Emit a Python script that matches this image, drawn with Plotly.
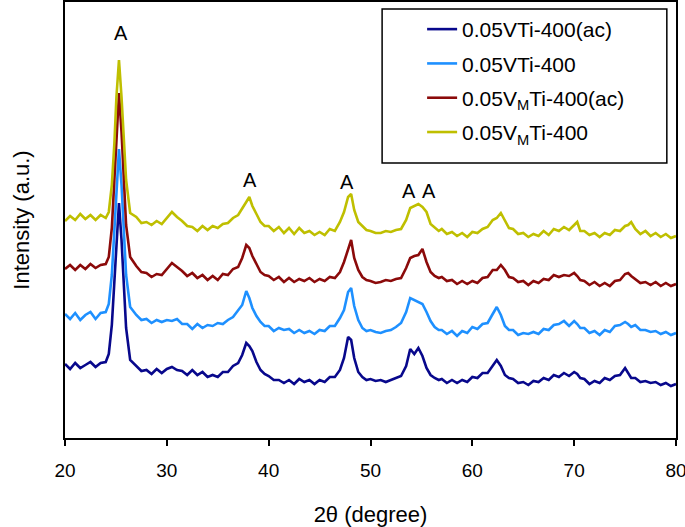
import plotly.graph_objects as go

# 2-theta grid (degree), finer around the reflections
two_theta = (
    [20.0, 20.5, 21.0, 21.5, 22.0, 22.5, 23.0, 23.5, 24.0]
    + [24.3, 24.6, 24.85, 25.05, 25.3, 25.55, 25.75, 26.0, 26.4]
    + [27.0, 27.5, 28.0, 28.5, 29.0, 29.5, 30.0, 30.5, 31.0, 31.5, 32.0,
       32.5, 33.0, 33.5, 34.0, 34.5, 35.0, 35.5, 36.0, 36.5, 37.0]
    + [37.4, 37.8, 38.1, 38.4, 38.8, 39.2, 39.6]
    + [40.0, 40.5, 41.0, 41.5, 42.0, 42.5, 43.0, 43.5, 44.0, 44.5, 45.0,
       45.5, 46.0, 46.5, 47.0]
    + [47.4, 47.8, 48.1, 48.4, 48.8, 49.2, 49.6]
    + [50.0, 50.5, 51.0, 51.5, 52.0, 52.5, 53.0, 53.5]
    + [53.9, 54.3, 54.7, 55.1, 55.5, 55.9, 56.3, 56.7]
    + [57.0, 57.5, 58.0, 58.5, 59.0, 59.5, 60.0, 60.5, 61.0, 61.5, 62.0]
    + [62.4, 62.8, 63.2, 63.6]
    + [64.0, 64.5, 65.0, 65.5, 66.0, 66.5, 67.0, 67.5, 68.0, 68.5, 69.0,
       69.5, 70.0]
    + [70.3, 70.6]
    + [71.0, 71.5, 72.0, 72.5, 73.0, 73.5, 74.0, 74.5, 75.0]
    + [75.3, 75.6]
    + [76.0, 76.5, 77.0, 77.5, 78.0, 78.5, 79.0, 79.5, 80.0]
)

# Intensities (a.u., stacked as displayed)
i_vti_ac = (
    [74, 69, 75, 70, 73, 76, 71, 75, 76]
    + [84, 113, 156, 200, 235, 198, 153, 110, 78]
    + [72, 67, 68, 64, 69, 65, 69, 71, 68, 67, 63, 68, 63, 66, 61, 63, 61, 66, 66, 72, 75]
    + [83, 95, 92, 87, 76, 68, 64]
    + [62, 58, 58, 55, 58, 54, 59, 56, 58, 54, 58, 56, 61, 61, 68]
    + [80, 101, 98, 80, 66, 61, 58]
    + [59, 57, 58, 56, 58, 60, 62, 72]
    + [89, 84, 90, 82, 70, 63, 60, 58]
    + [59, 55, 58, 55, 58, 56, 61, 60, 65, 65, 72]
    + [78, 72, 63, 60]
    + [59, 55, 56, 53, 57, 56, 60, 58, 63, 61, 65, 62, 66]
    + [64, 60]
    + [59, 54, 57, 55, 60, 58, 62, 63, 70]
    + [65, 60]
    + [60, 56, 57, 55, 56, 53, 55, 52, 54]
)

i_vti = (
    [124, 119, 125, 118, 123, 126, 119, 125, 126]
    + [134, 163, 208, 253, 289, 253, 206, 163, 131]
    + [123, 118, 119, 115, 118, 116, 118, 117, 119, 114, 114, 109, 114, 110, 113, 112, 115, 114, 118, 121, 128]
    + [133, 147, 140, 130, 122, 116, 112]
    + [112, 107, 110, 108, 109, 105, 108, 105, 107, 104, 108, 107, 112, 112, 120]
    + [128, 146, 150, 132, 118, 110, 107]
    + [108, 106, 105, 107, 108, 111, 115, 126]
    + [140, 138, 136, 134, 126, 117, 111, 108]
    + [108, 104, 107, 102, 107, 105, 111, 109, 114, 115, 124]
    + [131, 123, 112, 108]
    + [108, 103, 105, 104, 106, 104, 109, 108, 113, 114, 117, 112, 117]
    + [114, 110]
    + [110, 105, 107, 103, 108, 106, 112, 113, 116]
    + [114, 111]
    + [113, 108, 108, 106, 107, 104, 106, 103, 105]
)

i_vmti_ac = (
    [169, 173, 168, 173, 169, 174, 170, 173, 174]
    + [181, 210, 258, 308, 345, 306, 258, 213, 181]
    + [172, 166, 165, 161, 164, 163, 169, 175, 171, 167, 162, 165, 160, 163, 158, 162, 158, 164, 163, 169, 171]
    + [180, 193, 190, 182, 174, 166, 163]
    + [162, 158, 161, 156, 160, 156, 159, 157, 160, 156, 159, 157, 161, 160, 166]
    + [176, 188, 198, 180, 168, 161, 158]
    + [157, 155, 156, 158, 157, 159, 160, 170]
    + [180, 182, 183, 189, 176, 166, 162, 160]
    + [161, 157, 158, 154, 157, 154, 157, 155, 160, 161, 168]
    + [168, 173, 168, 161]
    + [160, 156, 157, 153, 157, 155, 159, 158, 163, 161, 163, 162, 165]
    + [162, 158]
    + [157, 153, 156, 152, 155, 152, 157, 158, 164]
    + [165, 162]
    + [159, 155, 156, 153, 156, 152, 155, 152, 154]
)

i_vmti = (
    [217, 222, 218, 224, 219, 223, 218, 223, 220]
    + [226, 253, 295, 341, 378, 341, 298, 258, 225]
    + [221, 215, 216, 213, 217, 214, 220, 226, 221, 217, 212, 211, 207, 212, 208, 212, 210, 214, 215, 220, 223]
    + [229, 236, 241, 232, 224, 216, 212]
    + [212, 207, 211, 205, 210, 204, 210, 205, 207, 203, 206, 203, 209, 207, 216]
    + [226, 241, 244, 228, 216, 212, 208]
    + [207, 205, 205, 207, 206, 208, 209, 218]
    + [230, 232, 234, 231, 226, 214, 210, 207]
    + [209, 204, 206, 202, 205, 201, 206, 205, 209, 211, 218]
    + [220, 225, 218, 210]
    + [209, 204, 205, 201, 204, 202, 207, 203, 209, 207, 211, 208, 213]
    + [216, 207]
    + [207, 203, 205, 201, 205, 203, 208, 207, 212]
    + [213, 216]
    + [209, 204, 207, 202, 205, 201, 204, 200, 202]
)

series_names = [
    "0.05VTi-400(ac)",
    "0.05VTi-400",
    "0.05V<sub>M</sub>Ti-400(ac)",
    "0.05V<sub>M</sub>Ti-400",
]
series_values = [i_vti_ac, i_vti, i_vmti_ac, i_vmti]
series_colors = ["#08088C", "#1E90FF", "#8B0A0A", "#BFBF00"]

# anatase reflection labels
peak_label_x = [25.5, 38.15, 47.7, 53.8, 55.75]
peak_label_y = [405, 258, 256, 247, 247]
peak_label_text = ["A", "A", "A", "A", "A"]

x_ticks = [20, 30, 40, 50, 60, 70, 80]

FONT = "Liberation Sans, Arial, sans-serif"

fig = go.Figure()
for k, (name, vals, col) in enumerate(zip(series_names, series_values, series_colors)):
    fig.add_trace(go.Scatter(
        x=two_theta, y=vals, mode="lines", name=name,
        legendgroup=f"g{k}",
        line=dict(color=col, width=2.6),
    ))

for px, py, t in zip(peak_label_x, peak_label_y, peak_label_text):
    fig.add_annotation(x=px, y=py, text=t, showarrow=False,
                       xref="x", yref="y",
                       font=dict(family=FONT, size=20, color="black"))

# legend frame
fig.add_shape(type="rect", xref="paper", yref="paper",
              x0=0.519, x1=0.985, y0=0.631, y1=0.984,
              line=dict(color="black", width=1.5), fillcolor="rgba(0,0,0,0)",
              layer="above")

fig.update_layout(
    width=685, height=527,
    margin=dict(l=65, r=9, t=2, b=89),
    paper_bgcolor="white", plot_bgcolor="white",
    font=dict(family=FONT, color="black"),
    showlegend=True,
    legend=dict(
        x=0.519, y=0.984, xanchor="left", yanchor="top",
        bgcolor="rgba(0,0,0,0)", borderwidth=0,
        font=dict(family=FONT, size=21, color="black"),
        traceorder="grouped",
        tracegroupgap=4,
        indentation=40,
    ),
    xaxis=dict(
        range=[20, 80], tickvals=x_ticks, ticktext=[str(v) for v in x_ticks],
        ticks="outside", ticklen=6, tickwidth=1.5, tickcolor="black",
        showline=True, linecolor="black", linewidth=1.5, mirror=True,
        showgrid=False, zeroline=False,
        ticklabelstandoff=8, ticklabeloverflow="allow",
        tickfont=dict(family=FONT, size=19, color="black"),
        title=dict(text="2θ (degree)", font=dict(family=FONT, size=22, color="black"),
                   standoff=27),
        automargin=False,
    ),
    yaxis=dict(
        range=[0, 436], showticklabels=False, ticks="",
        showline=True, linecolor="black", linewidth=1.5, mirror=True,
        showgrid=False, zeroline=False,
        title=dict(text="Intensity (a.u.)", font=dict(family=FONT, size=22, color="black"),
                   standoff=28),
        automargin=False,
    ),
)

fig.write_html("out.html", config={"displayModeBar": False},
               post_script="document.body.style.margin='0';")
